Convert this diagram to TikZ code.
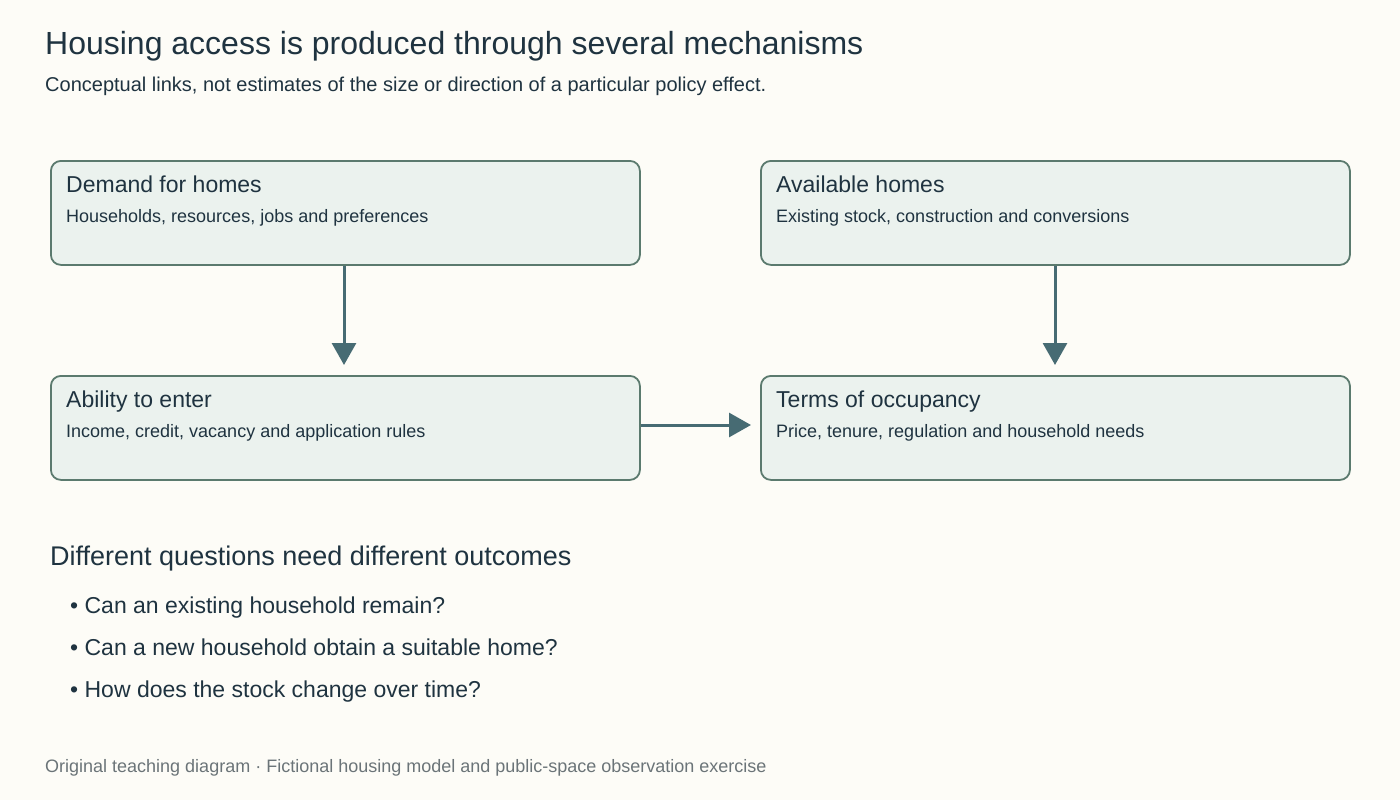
\documentclass[tikz,border=0pt]{standalone}
\usepackage{fontspec}
\setmainfont{Liberation Sans}
\usetikzlibrary{arrows.meta}
\definecolor{bg}{HTML}{FDFCF7}
\definecolor{ink}{HTML}{1F3340}
\definecolor{boxfill}{HTML}{EBF2EE}
\definecolor{boxline}{HTML}{5B7A6E}
\definecolor{arr}{HTML}{476B73}
\definecolor{foot}{HTML}{6B7478}
\begin{document}
\begin{tikzpicture}[x=1pt,y=-1pt,
  box/.style={draw=boxline,fill=boxfill,line width=1.8pt,rounded corners=10pt,minimum width=589pt,minimum height=104pt,anchor=north west,inner sep=0pt},
  t/.style={anchor=base west,inner sep=0pt,text=ink},
  con/.style={draw=arr,line width=3pt,-{Triangle[length=22pt,width=24pt]}}]
\fill[bg] (0,0) rectangle (1400,800);
\useasboundingbox (0,0) rectangle (1400,800);
\node[t,font=\fontsize{32}{38}\selectfont] (title) at (45,55) {Housing access is produced through several mechanisms};
\node[t,font=\fontsize{20}{24}\selectfont] (sub) at (45,92) {Conceptual links, not estimates of the size or direction of a particular policy effect.};
\node[box] (d) at (50,160) {};
\node[box] (a) at (760,160) {};
\node[box] (e) at (50,375) {};
\node[box] (o) at (760,375) {};
\foreach \n/\x/\y/\h/\s in {d1/66/192/Demand for homes/{Households, resources, jobs and preferences},
  a1/776/192/Available homes/{Existing stock, construction and conversions},
  e1/66/407/Ability to enter/{Income, credit, vacancy and application rules},
  o1/776/407/Terms of occupancy/{Price, tenure, regulation and household needs}}{
  \node[t,font=\fontsize{23}{27}\selectfont] (\n h) at (\x,\y) {\h};
  \node[t,font=\fontsize{18}{22}\selectfont] (\n s) at (\x,\y+30) {\s};
}
\coordinate (d0) at (344,365);
\coordinate (a0) at (1055,365);
\coordinate (o0) at (751,425);
\draw[con] (d.south -| d0) -- (d0);
\draw[con] (a.south -| a0) -- (a0);
\draw[con] (e.east |- o0) -- (o0);
\node[t,font=\fontsize{27}{32}\selectfont] (q) at (50,565) {Different questions need different outcomes};
\node[t,font=\fontsize{23}{27}\selectfont] (b1) at (70,613) {• Can an existing household remain?};
\node[t,font=\fontsize{23}{27}\selectfont] (b2) at (70,655) {• Can a new household obtain a suitable home?};
\node[t,font=\fontsize{23}{27}\selectfont] (b3) at (70,697) {• How does the stock change over time?};
\node[t,font=\fontsize{18}{22}\selectfont,text=foot] (f) at (45,772) {Original teaching diagram · Fictional housing model and public-space observation exercise};
\end{tikzpicture}
\end{document}
